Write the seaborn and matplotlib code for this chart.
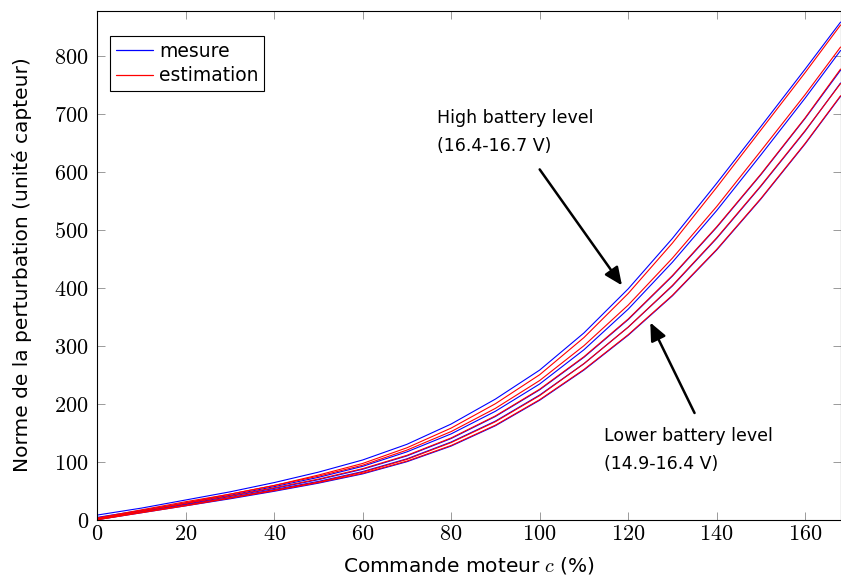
import matplotlib
matplotlib.use("Agg")
import matplotlib.pyplot as plt
import matplotlib.ticker as mticker
import pandas as pd
import seaborn as sns

# ─── Data ────────────────────────────────────────────────────────────────────
commande = [0, 10, 20, 30, 40, 50, 60, 70, 80, 90, 100, 110, 120, 130, 140, 150, 160, 168]

mesure_1 = [8, 20, 34, 48, 64, 82, 103, 130, 165, 208, 258, 322, 398, 485, 580, 678, 777, 858]
estimation_1 = [2, 15, 29, 44, 59, 77, 97, 124, 158, 200, 250, 314, 390, 477, 573, 672, 771, 853]

mesure_2 = [4, 16, 29, 42, 57, 73, 92, 117, 148, 187, 234, 293, 363, 444, 533, 629, 727, 809]
estimation_2 = [3, 17, 31, 44, 59, 75, 94, 120, 152, 192, 240, 300, 370, 451, 540, 636, 733, 815]

mesure_3 = [2, 14, 27, 40, 54, 69, 87, 110, 140, 178, 224, 280, 345, 420, 504, 595, 692, 775]
estimation_3 = [1, 15, 28, 41, 55, 70, 88, 111, 141, 179, 225, 281, 346, 421, 505, 596, 693, 777]

mesure_4 = [1, 13, 26, 38, 52, 66, 83, 105, 134, 170, 215, 269, 332, 403, 485, 575, 670, 753]
estimation_4 = [0, 13, 25, 38, 51, 65, 82, 104, 133, 169, 214, 269, 332, 404, 486, 576, 671, 752]

mesure_5 = [0, 12, 24, 36, 49, 63, 79, 100, 127, 162, 206, 258, 318, 386, 465, 553, 648, 730]
estimation_5 = [0, 12, 24, 37, 50, 64, 80, 101, 128, 163, 207, 259, 319, 387, 466, 554, 649, 731]

mesures = [mesure_1, mesure_2, mesure_3, mesure_4, mesure_5]
estimations = [estimation_1, estimation_2, estimation_3, estimation_4, estimation_5]

x_ticks = [0, 20, 40, 60, 80, 100, 120, 140, 160]
y_ticks = [0, 100, 200, 300, 400, 500, 600, 700, 800]

colors = {"mesure": "#0000ff", "estimation": "#ff0000"}

# long table for seaborn
rows = []
for k, (m, e) in enumerate(zip(mesures, estimations)):
    for c, vm, ve in zip(commande, m, e):
        rows.append({"c": c, "val": vm, "type": "mesure", "niveau": k})
        rows.append({"c": c, "val": ve, "type": "estimation", "niveau": k})
df = pd.DataFrame(rows)

# ─── Style ───────────────────────────────────────────────────────────────────
sns.set_theme(style="ticks")
plt.rcParams["font.family"] = ["DejaVu Sans"]
plt.rcParams["mathtext.fontset"] = "cm"
plt.rcParams["text.color"] = "black"
plt.rcParams["axes.labelcolor"] = "black"

fig = plt.figure(figsize=(8.41, 5.88), dpi=100)
ax = fig.add_axes([97.2 / 841, 1 - 519.7 / 588, (841 - 97.2) / 841, (519.7 - 10.5) / 588])

sns.lineplot(
    data=df, x="c", y="val", hue="type", units="niveau", estimator=None,
    palette=colors, linewidth=0.8, sort=False, ax=ax,
)

ax.set_xlim(0, 168.1)
ax.set_ylim(0, 878)
ax.set_xticks(x_ticks)
ax.set_yticks(y_ticks)
fmt = mticker.FuncFormatter(lambda v, p: f"${int(v)}$")
ax.xaxis.set_major_formatter(fmt)
ax.yaxis.set_major_formatter(fmt)
ax.tick_params(direction="in", length=5.5, width=0.7, color="#9a9a9a",
               top=True, right=True, labelsize=16, labelcolor="black")
ax.tick_params(axis="x", pad=3)
ax.tick_params(axis="y", pad=6)
for s in ax.spines.values():
    s.set_color("black")
    s.set_linewidth(0.8)

ax.set_xlabel("Commande moteur $c$ (%)", fontsize=14.5, labelpad=8)
ax.set_ylabel("Norme de la perturbation (unité capteur)", fontsize=14.5, labelpad=16)

# legend
handles, labels = ax.get_legend_handles_labels()
leg = ax.legend(handles, labels, loc="upper left", bbox_to_anchor=(0.0175, 0.95),
                borderaxespad=0, fontsize=13.5, handlelength=2.0, handletextpad=0.3,
                labelspacing=0.3, borderpad=0.3, fancybox=False, framealpha=1,
                edgecolor="black")
leg.get_frame().set_linewidth(0.8)
for h, lab in zip(leg.get_lines(), labels):
    h.set_linewidth(0.9)
    h.set_color(colors.get(lab, "black"))

# annotations
arrow = dict(arrowstyle="-|>,head_length=0.9,head_width=0.4", lw=1.8, color="black",
             shrinkA=0, shrinkB=0)
ax.text(76.8, 708, "High battery level\n(16.4-16.7 V)", ha="left", va="top",
        fontsize=12.5, linespacing=1.7)
ax.annotate("", xy=(118.6, 404), xytext=(100, 604), arrowprops=arrow)
ax.text(114.5, 160, "Lower battery level\n(14.9-16.4 V)", ha="left", va="top",
        fontsize=12.5, linespacing=1.7)
ax.annotate("", xy=(125, 340), xytext=(135, 184), arrowprops=arrow)

plt.savefig("out.png", dpi=100)
plt.close()
